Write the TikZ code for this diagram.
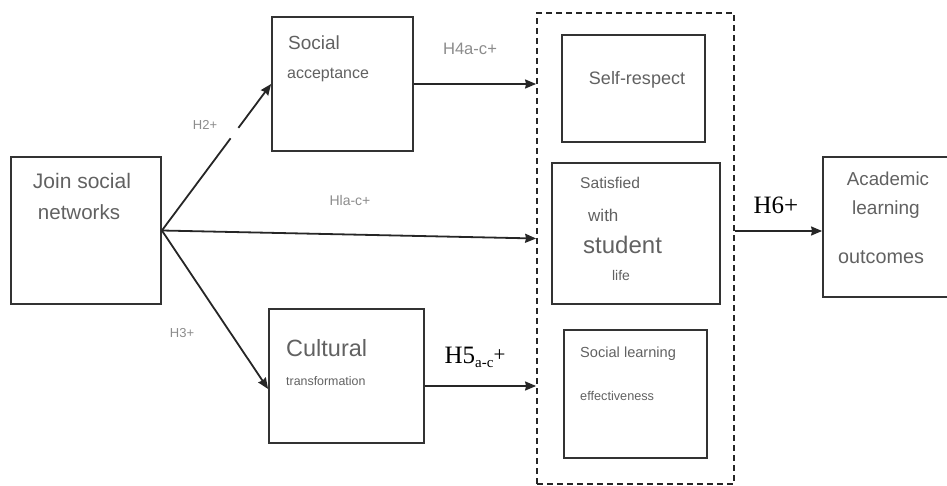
\documentclass[tikz,border=0pt]{standalone}
\usepackage{fontspec}
\setmainfont{Liberation Sans}
\newfontfamily\timesfont{Liberation Serif}
\usetikzlibrary{arrows.meta}
\usetikzlibrary{positioning}

\newcommand{\fs}[1]{\fontsize{#1}{#1}\selectfont}

\begin{document}
\begin{tikzpicture}[x=1pt,y=-1pt,
  box/.style={draw=black!80,line width=1.8pt,inner sep=0pt},
  grp/.style={draw=black!85,line width=1.8pt,dash pattern=on 6pt off 4pt,inner sep=0pt},
  txt/.style={text=black!62,inner sep=0pt},
  hyp/.style={text=black!45,inner sep=0pt},
  conn/.style={line width=1.8pt,draw=black!85,-{Stealth[length=11pt,width=9pt,inset=1pt]}}]

  \clip (0,0) rectangle (947,486);

  % join social networks
  \node[box,minimum width=150,minimum height=147] (join) at (86,230.5) {};
  \node[txt] (joinA) at (82,181) {\fs{21}Join social};
  \node[txt] (joinB) at (79,212) {\fs{20.5}networks};

  % social acceptance
  \node[box,minimum width=141,minimum height=134] (soc) at (342.5,84) {};
  \node[txt,anchor=west] (socA) at (288,43) {\fs{19}Social};
  \node[txt,anchor=west] (socB) at (287,75) {\fs{16}acceptance};

  % cultural transformation
  \node[box,minimum width=155,minimum height=134] (cult) at (346.5,376) {};
  \node[txt,anchor=west] (cultA) at (286,348) {\fs{23.5}Cultural};
  \node[txt,anchor=west] (cultB) at (286,381) {\fs{12.4}transformation};

  % dashed group
  \node[grp,minimum width=197,minimum height=471] (grp) at (635.5,248.5) {};

  \node[box,minimum width=143,minimum height=107] (self) at (633.5,88.5) {};
  \node[txt] (selfA) at (637,80) {\fs{18}Self-respect};

  \node[box,minimum width=168,minimum height=141] (sat) at (636,233.5) {};
  \node[txt,anchor=west] (satA) at (580,183) {\fs{15.6}Satisfied};
  \node[txt,anchor=west] (satB) at (588,215) {\fs{17}with};
  \node[txt,anchor=west] (satC) at (583,245) {\fs{24}student};
  \node[txt] (satD) at (621,275) {\fs{14}life};

  \node[box,minimum width=143,minimum height=128] (slearn) at (635.5,394) {};
  \node[txt,anchor=west] (slearnA) at (580,354) {\fs{14.6}Social learning};
  \node[txt,anchor=west] (slearnB) at (580,396) {\fs{12.7}effectiveness};

  % academic learning outcomes
  \node[box,minimum width=129,minimum height=140] (acad) at (887.5,227) {};
  \node[txt] (acadA) at (888,179) {\fs{18.7}Academic};
  \node[txt] (acadB) at (886,210) {\fs{19}learning};
  \node[txt] (acadC) at (881,257) {\fs{19.8}outcomes};

  % hypotheses
  \coordinate (cultIn) at ([yshift=-13pt]cult.west);
  \coordinate (cultOut) at ([yshift=-10pt]cult.east);
  \coordinate (grpIn) at ([yshift=10pt]grp.west);
  \coordinate (acadIn) at ([yshift=-4pt]acad.west);
  \draw[conn] (join.east) -- (soc.west)
    coordinate[pos=0.63] (gapA) coordinate[pos=0.70] (gapB);
  \draw[white,line width=4pt] (gapA) -- (gapB);
  \draw[conn] (join.east) -- (grpIn);
  \draw[conn] (join.east) -- (cultIn);
  \draw[conn] (soc.east) -- (grp.west |- soc.east);
  \draw[conn] (cultOut) -- (grp.west |- cultOut);
  \draw[conn] (grp.east |- acadIn) -- (acadIn);

  \node[hyp] (hTwo) at (205,125) {\fs{13}H2+};
  \node[hyp] (hOne) at (350,200) {\fs{14}Hla-c+};
  \node[hyp] (hThree) at (182,333) {\fs{13}H3+};
  \node[hyp] (hFour) at (470,49) {\fs{16.6}H4a-c+};
  \node[inner sep=0pt] (hFive) at (475,357)
    {\timesfont\fs{25}H5\raisebox{-4pt}{\fs{15}a-c}\raisebox{2pt}{\fs{21}+}};
  \node[inner sep=0pt] (hSix) at (776,205) {\timesfont\fs{25}H6+};

\end{tikzpicture}
\end{document}
